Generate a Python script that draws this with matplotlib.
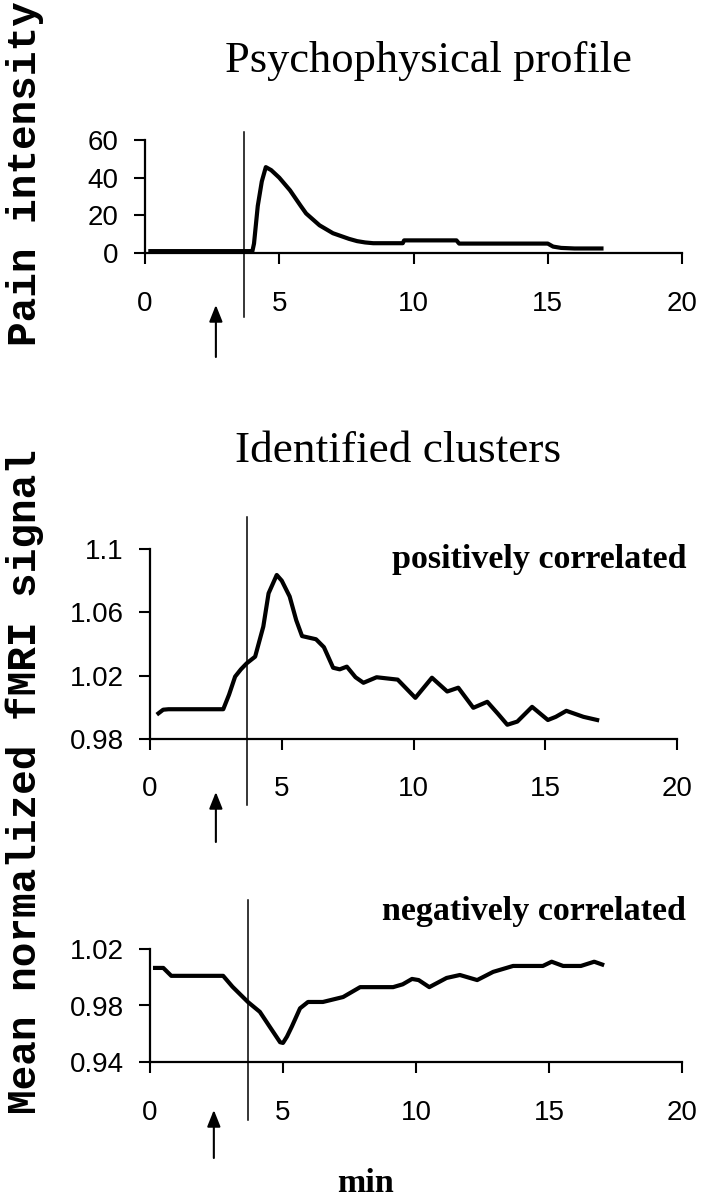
import matplotlib
matplotlib.use("Agg")
import matplotlib.pyplot as plt

# ---- data ----
# psychophysical profile (pain intensity vs min)
pain_t = [0.2, 4.0, 4.06, 4.2, 4.35, 4.5, 4.7, 5.0, 5.4, 5.8, 6.0, 6.5, 7.0, 7.3, 7.6,
          7.9, 8.2, 8.5, 9.6, 9.65, 11.6, 11.7, 15.0, 15.2, 15.5, 16.0, 17.0]
pain_v = [1.0, 1.0, 5.0, 25.0, 38.0, 45.6, 44.0, 40.0, 33.3, 25.0, 21.0, 14.7, 10.5, 9.0, 7.5,
          6.3, 5.6, 5.2, 5.2, 6.7, 6.7, 5.0, 5.0, 3.4, 2.7, 2.4, 2.4]

# positively correlated cluster
pos_t = [0.32, 0.5, 0.7, 1.5, 2.78, 3.0, 3.23, 3.45, 3.67, 3.99, 4.3, 4.5, 4.81, 5.0, 5.3,
         5.55, 5.77, 6.3, 6.6, 6.95, 7.2, 7.47, 7.8, 8.1, 8.6, 9.4, 10.07, 10.7, 11.28,
         11.7, 12.27, 12.8, 13.2, 13.56, 13.94, 14.5, 15.1, 15.4, 15.8, 16.45, 16.97]
pos_v = [0.9962, 0.9985, 0.9988, 0.9988, 0.9988, 1.008, 1.0194, 1.024, 1.0278, 1.032, 1.051,
         1.072, 1.0836, 1.080, 1.070, 1.055, 1.045, 1.043, 1.038, 1.025, 1.024, 1.0257,
         1.019, 1.0155, 1.019, 1.0175, 1.006, 1.0187, 1.010, 1.0124, 0.9997, 1.0035, 0.996,
         0.989, 0.991, 1.0003, 0.992, 0.994, 0.9978, 0.994, 0.992]

# negatively correlated cluster
neg_t = [0.19, 0.5, 0.8, 2.75, 3.1, 3.68, 4.13, 4.5, 4.89, 5.0, 5.15, 5.33, 5.64, 5.94, 6.5,
         7.26, 7.9, 9.14, 9.5, 9.85, 10.1, 10.5, 11.15, 11.65, 12.3, 12.9, 13.65, 14.77,
         15.1, 15.53, 16.2, 16.7, 17.0]
neg_v = [1.0066, 1.0066, 1.001, 1.001, 0.9933, 0.9825, 0.9755, 0.965, 0.954, 0.9535, 0.958,
         0.965, 0.978, 0.9825, 0.9825, 0.986, 0.993, 0.993, 0.995, 0.9988, 0.998, 0.993,
         0.9995, 1.0016, 0.998, 1.0038, 1.008, 1.008, 1.011, 1.008, 1.008, 1.011, 1.009]

x_ticks = [0, 5, 10, 15, 20]
pain_ticks = [0, 20, 40, 60]
pos_ticks = [0.98, 1.02, 1.06, 1.1]
pos_labels = ["0.98", "1.02", "1.06", "1.1"]
neg_ticks = [0.94, 0.98, 1.02]
neg_labels = ["0.94", "0.98", "1.02"]

onset = 3.67            # vertical marker (min)
arrow_x = [2.64, 2.5, 2.4]

W, H = 706, 1199
fig = plt.figure(figsize=(W / 100, H / 100), dpi=100)

tick_font = ["Liberation Sans Narrow", "Liberation Sans", "DejaVu Sans"]
serif = ["Liberation Serif", "DejaVu Serif"]
mono = ["Liberation Mono", "DejaVu Sans Mono"]


def px_axes(left, right, top, bottom):
    # pixel box -> figure fraction
    return fig.add_axes([left / W, 1 - bottom / H, (right - left) / W, (bottom - top) / H])


def style(ax, yticks, ylabels, ylim):
    ax.set_xlim(0, 20)
    ax.set_ylim(*ylim)
    ax.set_xticks(x_ticks)
    ax.set_xticklabels([str(t) for t in x_ticks])
    ax.set_yticks(yticks)
    ax.set_yticklabels(ylabels)
    for s in ["top", "right"]:
        ax.spines[s].set_visible(False)
    for s in ["left", "bottom"]:
        ax.spines[s].set_linewidth(1.6)
    ax.tick_params(axis="both", direction="out", length=8, width=1.5, labelsize=20)
    ax.tick_params(axis="x", pad=19)
    ax.tick_params(axis="y", pad=11)
    for lab in ax.get_xticklabels() + ax.get_yticklabels():
        lab.set_family(tick_font)


def marks(ax, top, bottom, ax_h, ax_x, a_top, a_bot):
    ax.axvline(onset, ymin=bottom, ymax=top, color="black", lw=1.1, clip_on=False)
    ax.annotate("", xy=(ax_x, -a_top / ax_h), xycoords=("data", "axes fraction"),
                xytext=(ax_x, -a_bot / ax_h), textcoords=("data", "axes fraction"),
                arrowprops=dict(arrowstyle="-|>,head_length=1.0,head_width=0.4",
                                color="black", lw=1.5, shrinkA=0, shrinkB=0),
                annotation_clip=False)


# panel 1
ax1 = px_axes(145, 682, 140, 253)
ax1.plot(pain_t, pain_v, color="black", lw=3.0)
style(ax1, pain_ticks, [str(t) for t in pain_ticks], (0, 60))
marks(ax1, 1.071, -0.566, 113, arrow_x[0], 52, 104)

# panel 2
ax2 = px_axes(150, 677, 549, 739)
ax2.plot(pos_t, pos_v, color="black", lw=3.0)
style(ax2, pos_ticks, pos_labels, (0.98, 1.1))
marks(ax2, 1.168, -0.347, 190, arrow_x[1], 53, 103)

# panel 3
ax3 = px_axes(150, 682, 949, 1062)
ax3.plot(neg_t, neg_v, color="black", lw=3.0)
style(ax3, neg_ticks, neg_labels, (0.94, 1.02))
marks(ax3, 1.434, -0.513, 113, arrow_x[2], 48, 96)

# texts
fig.text(428 / W, 1 - 72 / H, "Psychophysical profile", family=serif, fontsize=32,
         ha="center", va="baseline")
fig.text(398 / W, 1 - 462 / H, "Identified clusters", family=serif, fontsize=32.7,
         ha="center", va="baseline")
fig.text(686 / W, 1 - 568 / H, "positively correlated", family=serif, fontsize=24.5,
         weight="bold", ha="right", va="baseline")
fig.text(686 / W, 1 - 920 / H, "negatively correlated", family=serif, fontsize=24.5,
         weight="bold", ha="right", va="baseline")
fig.text(365 / W, 1 - 1192 / H, "min", family=serif, fontsize=24.5, weight="bold",
         ha="center", va="baseline")

fig.text(25 / W, 1 - 346 / H, "Pain intensity", family=mono, fontsize=29.5,
         weight="bold", rotation=90, ha="center", va="bottom")
fig.text(25 / W, 1 - 782 / H, "Mean normalized fMRI signal", family=mono, fontsize=29.5,
         weight="bold", rotation=90, ha="center", va="center")

fig.savefig("out.png", dpi=100)
